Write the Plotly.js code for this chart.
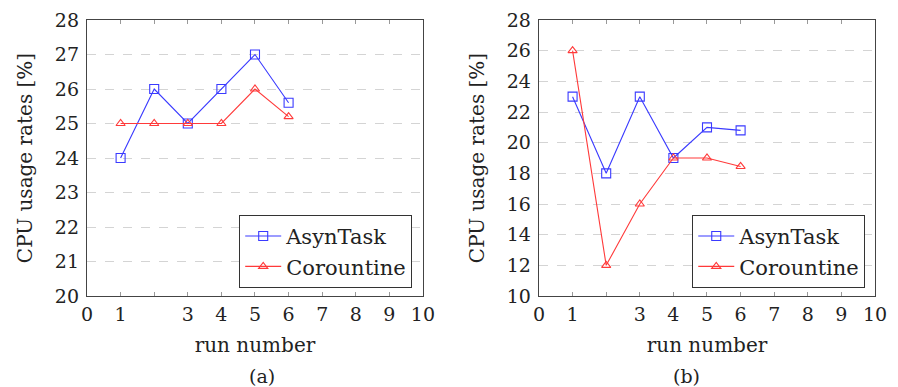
<!DOCTYPE html>
<html>
<head>
<meta charset="utf-8">
<script src="https://cdn.plot.ly/plotly-3.0.1.min.js"></script>
<style>html,body{margin:0;padding:0;background:#fff;}#chart{width:898px;height:387px;}</style>
</head>
<body>
<div id="chart"></div>
<script>
const runs = [1, 2, 3, 4, 5, 6];
const asynA = [24, 26, 25, 26, 27, 25.6];
const coroA = [25, 25, 25, 25, 26, 25.2];
const asynB = [23, 18, 23, 19, 21, 20.8];
const coroB = [26, 12, 16, 19, 19, 18.45];
const xTickVals = [0, 1, 2, 3, 4, 5, 6, 7, 8, 9, 10];
const xTickText = ['0', '1', '', '3', '4', '5', '6', '7', '8', '9', '10'];
const yTicksA = [20, 21, 22, 23, 24, 25, 26, 27, 28];
const yTicksB = [10, 12, 14, 16, 18, 20, 22, 24, 26, 28];
const seriesNames = ['AsynTask', 'Corountine'];
const subCaptions = ['(a)', '(b)'];

const FONT = 'DejaVu Serif';
const BLUE = '#3a3aff';
const RED = '#ff3a3a';

function tr(x, y, name, color, sym, size, xa, ya, leg) {
  return {
    x: x, y: y, name: name, type: 'scatter', mode: 'lines+markers',
    xaxis: xa, yaxis: ya, legend: leg,
    line: {color: color, width: 1.1},
    marker: {symbol: sym, size: size, color: color, line: {color: color, width: 1.1}}
  };
}

const data = [
  tr(runs, asynA, seriesNames[0], BLUE, 'square-open', 9, 'x', 'y', 'legend'),
  tr(runs, coroA, seriesNames[1], RED, 'triangle-up-open', 8, 'x', 'y', 'legend'),
  tr(runs, asynB, seriesNames[0], BLUE, 'square-open', 9, 'x2', 'y2', 'legend2'),
  tr(runs, coroB, seriesNames[1], RED, 'triangle-up-open', 8, 'x2', 'y2', 'legend2')
];

function xax(domain, anchor) {
  return {
    domain: domain, anchor: anchor, range: [0, 10],
    tickmode: 'array', tickvals: xTickVals, ticktext: xTickText,
    ticks: 'inside', ticklen: 4, tickcolor: '#999', tickwidth: 1,
    showgrid: false, zeroline: false,
    showline: true, mirror: 'ticks', linecolor: '#444', linewidth: 1.2,
    tickfont: {family: FONT, size: 19, color: '#222'},
    ticklabelstandoff: 1,
    title: {text: 'run number', font: {family: FONT, size: 20, color: '#222'}, standoff: 14}
  };
}
function yax(range, vals, anchor) {
  return {
    range: range, anchor: anchor, domain: [0, 1],
    tickmode: 'array', tickvals: vals,
    ticks: '', showgrid: true, gridcolor: '#d4d4d4', griddash: 'dash', gridwidth: 1,
    zeroline: false, showline: true, mirror: true, linecolor: '#444', linewidth: 1.2,
    tickfont: {family: FONT, size: 19, color: '#222'},
    ticklabelstandoff: 3,
    title: {text: 'CPU usage rates [%]', font: {family: FONT, size: 20, color: '#222'}, standoff: 16}
  };
}
function leg(xr) {
  return {
    x: xr, xanchor: 'right', y: 0.03, yanchor: 'bottom',
    bgcolor: '#fff', bordercolor: '#333', borderwidth: 1.2,
    font: {family: FONT, size: 21, color: '#222'},
    itemwidth: 36, tracegroupgap: 0
  };
}

const layout = {
  width: 898, height: 387,
  margin: {l: 0, r: 0, t: 20, b: 91},
  paper_bgcolor: '#fff', plot_bgcolor: '#fff',
  showlegend: true,
  xaxis: xax([0.0969, 0.4710], 'y'),
  yaxis: yax([20, 28], yTicksA, 'x'),
  xaxis2: xax([0.6002, 0.9744], 'y2'),
  yaxis2: yax([10, 28], yTicksB, 'x2'),
  legend: leg(0.4588),
  legend2: leg(0.9633),
  annotations: [
    {text: subCaptions[0], xref: 'paper', yref: 'paper', x: 0.2750, y: -0.29, showarrow: false, yanchor: 'middle',
     font: {family: FONT, size: 19, color: '#222'}},
    {text: subCaptions[1], xref: 'paper', yref: 'paper', x: 0.7818, y: -0.29, showarrow: false, yanchor: 'middle',
     font: {family: FONT, size: 19, color: '#222'}}
  ]
};

Plotly.newPlot('chart', data, layout, {staticPlot: true, displayModeBar: false});
</script>
</body>
</html>
